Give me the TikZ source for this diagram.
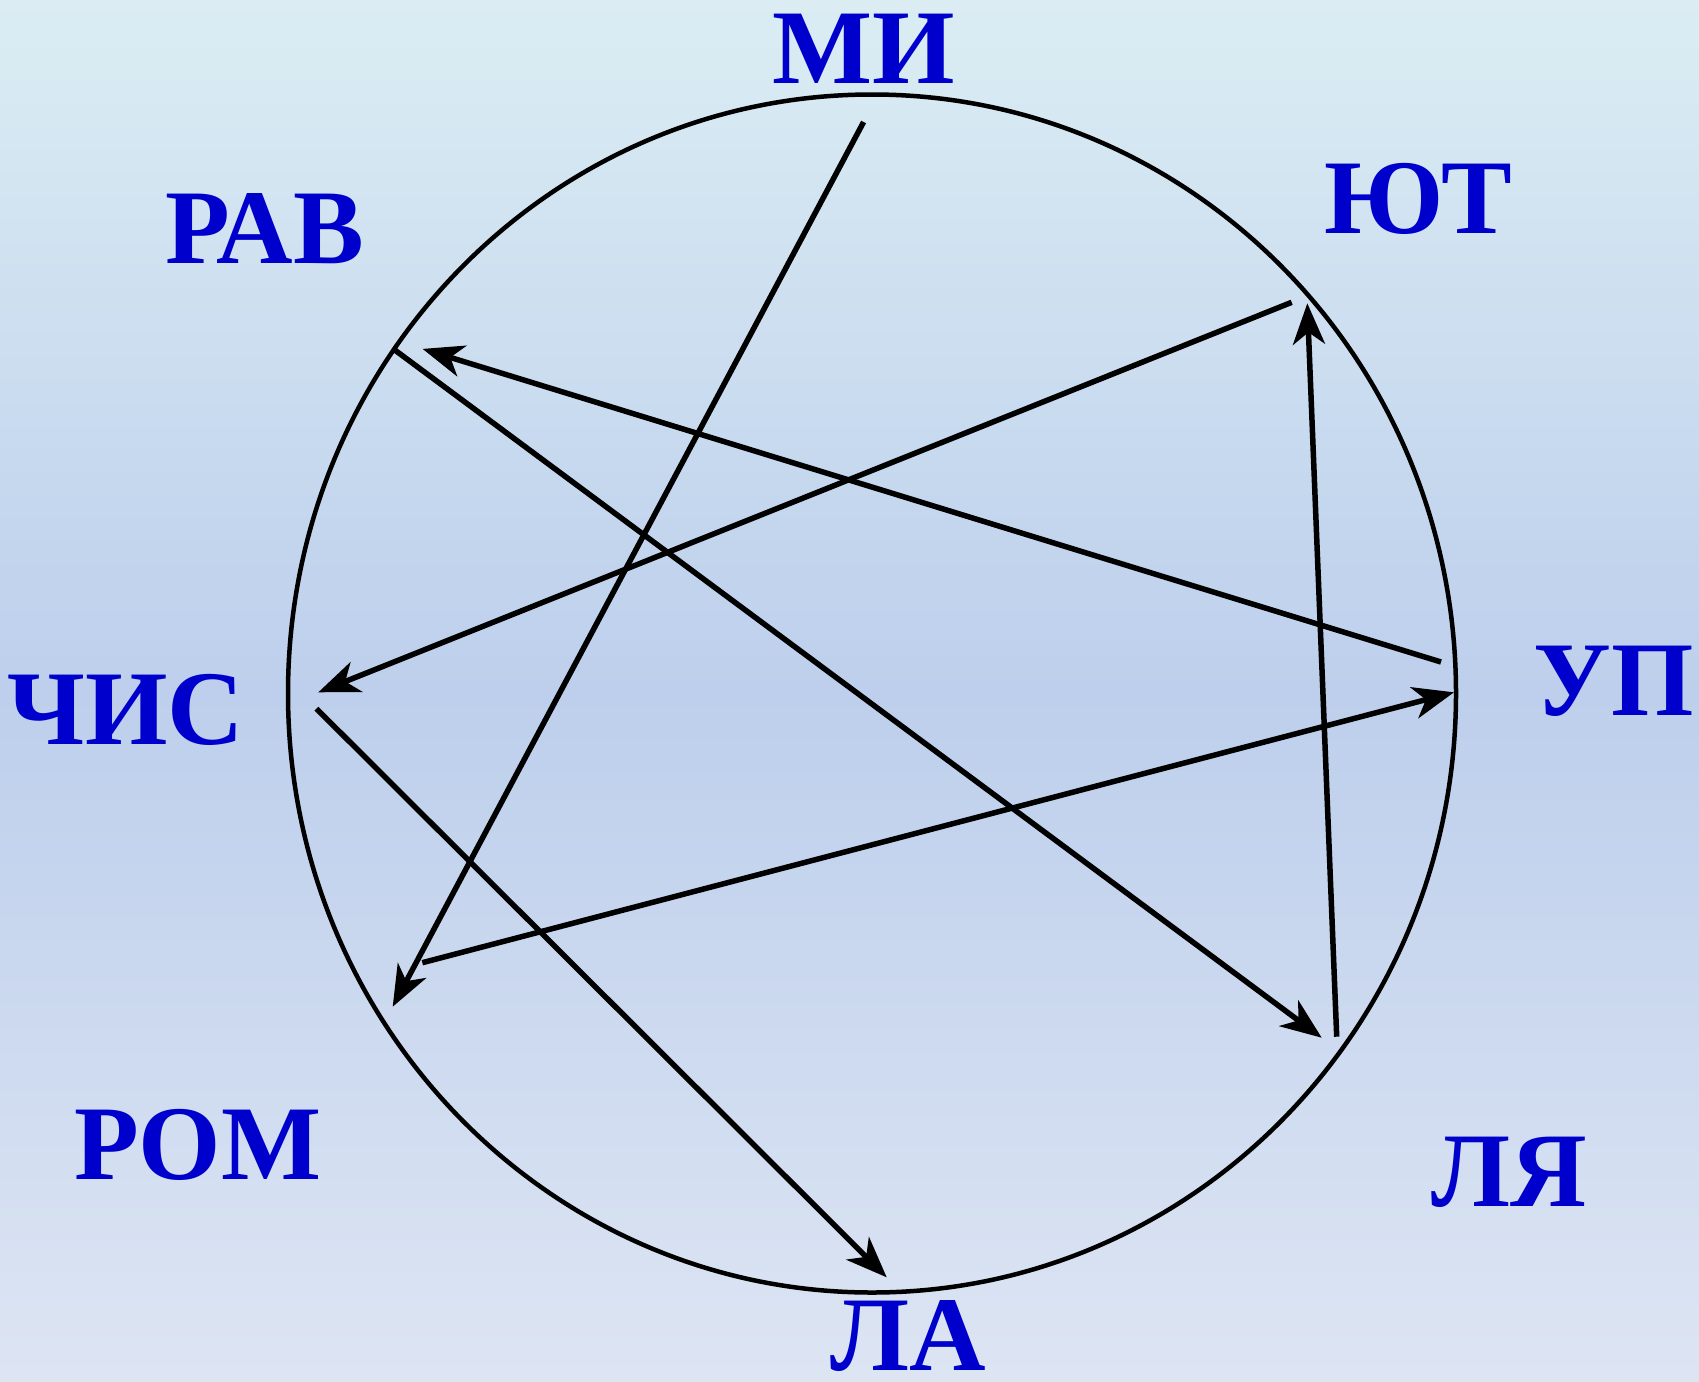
\documentclass[tikz,border=0pt]{standalone}
\usepackage{fontspec}
\setmainfont{Liberation Serif}
\usetikzlibrary{arrows.meta}
\definecolor{bgtop}{RGB}{219,237,243}
\definecolor{bgmid}{RGB}{189,207,236}
\definecolor{bgbot}{RGB}{221,229,243}
\definecolor{lblcol}{RGB}{0,0,204}
\begin{document}
\begin{tikzpicture}[x=1pt,y=-1pt,
  lbl/.style={font=\fontsize{106}{110}\selectfont\bfseries, text=lblcol, inner sep=0pt, anchor=base},
  ring/.style={draw=black, line width=4.5pt},
  link/.style={draw=black, line width=5.5pt, -{Stealth[length=41pt,width=32pt,inset=12pt]}}]
\useasboundingbox (0,0) rectangle (1699,1381);
\shade[top color=bgtop, bottom color=bgbot, middle color=bgmid] (0,0) rectangle (1699,1381);
\draw[ring] (872,693.5) ellipse [x radius=584, y radius=599];
% labels
\node[lbl] (mi)   at (864,83)    {МИ};
\node[lbl] (ut)   at (1418,233)  {ЮТ};
\node[lbl] (rav)  at (264.5,263) {РАВ};
\node[lbl] (chis) at (126,744)   {ЧИС};
\node[lbl] (up)   at (1614,715)  {УП};
\node[lbl] (rom)  at (198,1179)  {РОМ};
\node[lbl] (lya)  at (1509,1206) {ЛЯ};
\node[lbl] (la)   at (908.5,1370) {ЛА};
% connector end points
\coordinate (miS)   at (863.6,122);
\coordinate (romT)  at (392.7,1006.7);
\coordinate (utS)   at (1291.7,302.3);
\coordinate (chisT) at (318.3,692.3);
\coordinate (upS)   at (1441,662);
\coordinate (ravT)  at (422.6,348.9);
\coordinate (ravS)  at (393.3,348.9);
\coordinate (lyaT)  at (1321.7,1037.7);
\coordinate (lyaS)  at (1336.7,1036.7);
\coordinate (utT)   at (1307.3,303.3);
\coordinate (chisS) at (316.4,708.6);
\coordinate (laT)   at (886.7,1277.3);
\coordinate (romS)  at (422.3,962.7);
\coordinate (upT)   at (1454,692.3);
% connectors
\draw[link] (miS) -- (romT);
\draw[link] (utS) -- (chisT);
\draw[link] (upS) -- (ravT);
\draw[link] (ravS) -- (lyaT);
\draw[link] (lyaS) -- (utT);
\draw[link] (chisS) -- (laT);
\draw[link] (romS) -- (upT);
\end{tikzpicture}
\end{document}
